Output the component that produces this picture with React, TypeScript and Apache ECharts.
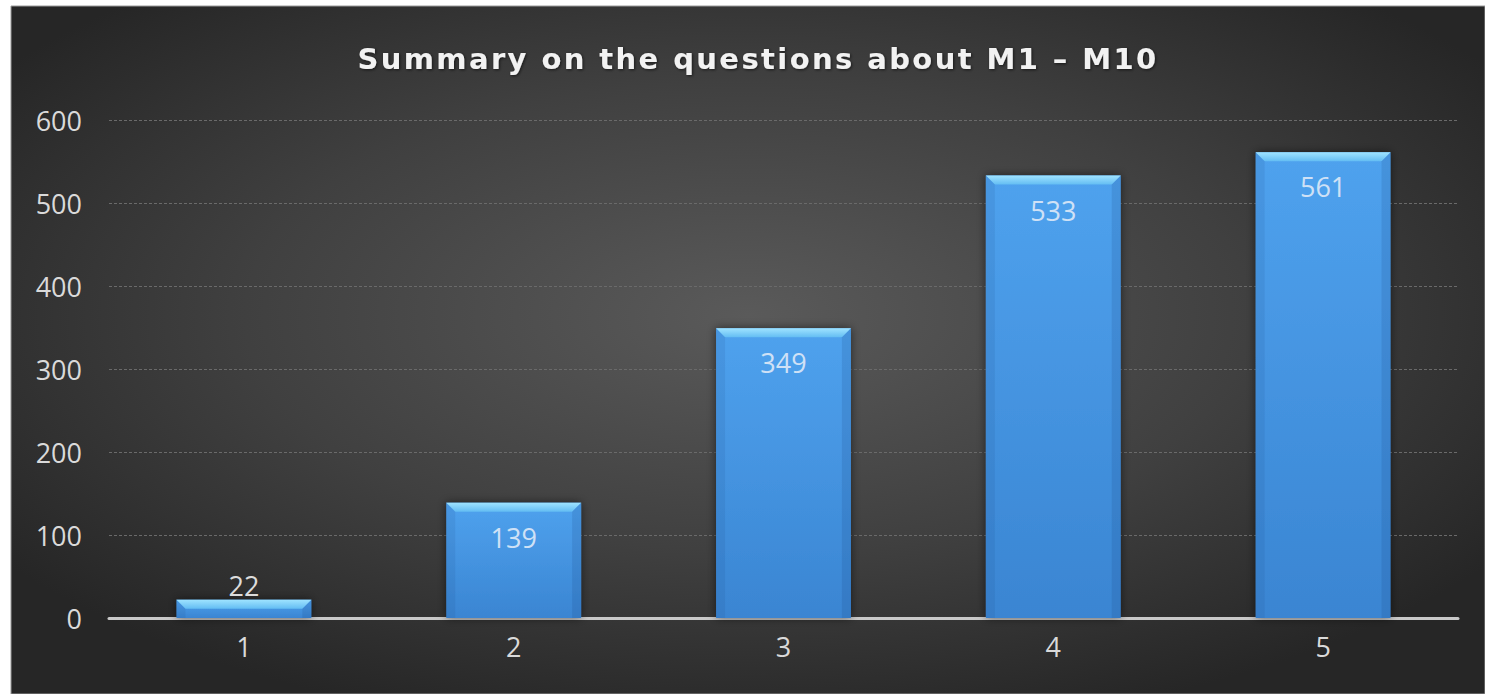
import React, { useEffect, useRef } from "react";
import * as echarts from "echarts";

const titleText = "Summary on the questions about M1 \u2013 M10";
const categories = ["1", "2", "3", "4", "5"];
const values = [22, 139, 349, 533, 561];
const yMin = 0;
const yMax = 600;
const yInterval = 100;

export default function App() {
  const ref = useRef<HTMLDivElement>(null);

  useEffect(() => {
    if (!ref.current) return;
    const chart = echarts.init(ref.current, undefined, { renderer: "svg" });

    const barData = values.map((v) => ({
      value: v,
      label:
        v < 60
          ? { position: "top", distance: 1, color: "#dcdcdc" }
          : { position: "insideTop", distance: 21, color: "#cfe1f6" },
    }));

    const bevelData = values.map((v, i) => [i, v]);

    const option: any = {
      animation: false,
      backgroundColor: "#ffffff",
      graphic: [
        {
          type: "rect",
          z: -10,
          silent: true,
          shape: { x: 11, y: 6, width: 1474, height: 688 },
          style: {
            fill: new echarts.graphic.RadialGradient(0.5, 0.45, 0.62, [
              { offset: 0, color: "#5a5a5a" },
              { offset: 0.55, color: "#404040" },
              { offset: 1, color: "#262626" },
            ]),
            stroke: "#9a9a9a",
            lineWidth: 1,
          },
        },
      ],
      title: {
        text: titleText,
        left: 753,
        top: 39,
        textAlign: "center",
        textStyle: {
          color: "#f2f2f2",
          fontFamily: "DejaVu Sans",
          fontWeight: "bold",
          fontSize: 29,
          textShadowColor: "rgba(0,0,0,0.6)",
          textShadowBlur: 3,
          textShadowOffsetX: 1,
          textShadowOffsetY: 1,
        },
      },
      grid: { left: 109, right: 27, top: 120, bottom: 76, containLabel: false },
      xAxis: {
        type: "category",
        data: categories,
        axisLine: { show: true, lineStyle: { color: "#c9c9c9", width: 3 } },
        axisTick: { show: false },
        axisLabel: {
          color: "#dadada",
          fontSize: 27,
          fontFamily: "Open Sans",
          margin: 15,
        },
        splitLine: { show: false },
      },
      yAxis: {
        type: "value",
        min: yMin,
        max: yMax,
        interval: yInterval,
        axisLine: { show: false },
        axisTick: { show: false },
        axisLabel: {
          color: "#dadada",
          fontSize: 27,
          fontFamily: "Open Sans",
          margin: 27,
        },
        splitLine: {
          show: true,
          lineStyle: { color: "#6a6a6a", width: 1, type: [3, 2] },
        },
      },
      series: [
        {
          type: "bar",
          data: barData,
          barWidth: "50%",
          z: 2,
          itemStyle: {
            color: new echarts.graphic.LinearGradient(0, 0, 0, 1, [
              { offset: 0, color: "#4fa2ee" },
              { offset: 1, color: "#3a85d2" },
            ]),
            shadowColor: "rgba(0,0,0,0.55)",
            shadowBlur: 10,
          },
          label: {
            show: true,
            fontSize: 27,
            fontFamily: "Open Sans",
          },
        },
        {
          type: "custom",
          z: 3,
          silent: true,
          data: bevelData,
          encode: { x: 0, y: 1 },
          renderItem: (params: any, api: any) => {
            const idx = api.value(0);
            const val = api.value(1);
            const top = api.coord([idx, val]);
            const base = api.coord([idx, 0]);
            const bw = api.size([1, 0])[0] * 0.5;
            const x0 = top[0] - bw / 2;
            const x1 = top[0] + bw / 2;
            const y = top[1];
            const h = Math.min(9, (base[1] - y) / 2);
            return {
              type: "group",
              children: [
                {
                  type: "polygon",
                  shape: {
                    points: [
                      [x0, y],
                      [x1, y],
                      [x1 - h, y + h],
                      [x0 + h, y + h],
                    ],
                  },
                  style: {
                    fill: new echarts.graphic.LinearGradient(0, 0, 0, 1, [
                      { offset: 0, color: "#9fe3ff" },
                      { offset: 1, color: "#63bdf3" },
                    ]),
                  },
                },
                {
                  type: "polygon",
                  shape: {
                    points: [
                      [x0, y],
                      [x0 + h, y + h],
                      [x0 + h, base[1]],
                      [x0, base[1]],
                    ],
                  },
                  style: { fill: "rgba(20,60,120,0.10)" },
                },
                {
                  type: "polygon",
                  shape: {
                    points: [
                      [x1, y],
                      [x1 - h, y + h],
                      [x1 - h, base[1]],
                      [x1, base[1]],
                    ],
                  },
                  style: { fill: "rgba(20,60,120,0.15)" },
                },
              ],
            };
          },
        },
      ],
    };

    chart.setOption(option);
    return () => chart.dispose();
  }, []);

  return (
    <>
      <style>{`#root svg text[style*="DejaVu"]{letter-spacing:2.4px;}`}</style>
      <div
        ref={ref}
        style={{ position: "fixed", left: 0, top: 0, width: 1485, height: 694 }}
      />
    </>
  );
}
